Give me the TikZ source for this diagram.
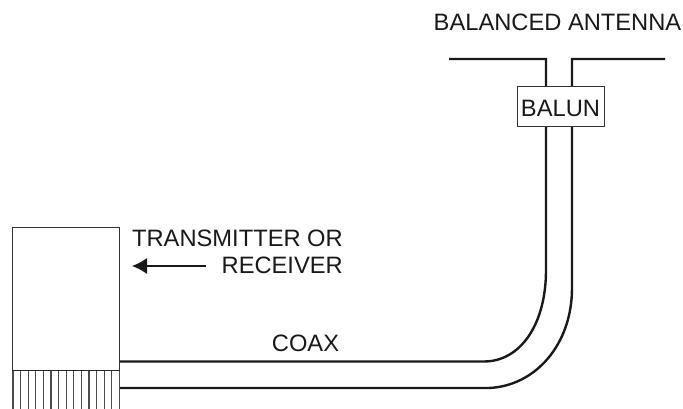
\documentclass[tikz,border=0pt]{standalone}
\usepackage{fontspec}
\setmainfont{Liberation Sans}
\usetikzlibrary{arrows.meta}
\tikzset{
  lbl/.style={inner sep=0pt,font=\fontsize{23.7}{28}\selectfont,text=black!90},
  coaxline/.style={line width=2.4pt,black!90},
  thin box/.style={draw=black!80,line width=1pt,fill=white},
  fin/.style={draw=black!70,line width=1.1pt},
}
\begin{document}
\begin{tikzpicture}[x=1pt,y=-1pt]
\useasboundingbox (0,0) rectangle (683,409);
% coordinates
\coordinate (ALend) at (449,59);
\coordinate (ALcorner) at (546,59);
\coordinate (ARend) at (665,59);
\coordinate (ARcorner) at (572,59);
\coordinate (Istraight) at (546,270);
\coordinate (Ostraight) at (572,288);
\coordinate (Ijoin) at (484,361.5);
\coordinate (Ojoin) at (489,388);
\coordinate (Istart) at (119,361.5);
\coordinate (Ostart) at (119,388);
\coordinate (arrowtail) at (206,266);
\coordinate (arrowtip) at (132,266);
% coax and antenna
\draw[coaxline,line join=miter] (ALend) -- (ALcorner) -- (Istraight)
  .. controls (546,325) and (520,361.5) .. (Ijoin) -- (Istart);
\draw[coaxline,line join=miter] (ARend) -- (ARcorner) -- (Ostraight)
  .. controls (572,345) and (535,386) .. (Ojoin) -- (Ostart);
% balun
\node[thin box,minimum width=87pt,minimum height=40pt,inner sep=0pt] (balun) at (560.5,106.5) {};
\node[lbl,anchor=base] (baluntext) at (560.5,117) {BALUN};
% transmitter
\node[thin box,minimum width=107pt,minimum height=143pt,inner sep=0pt] (tx) at (66.3,298.5) {};
\foreach \i in {0,...,14}{
  \coordinate (fa\i) at ({13+\i*7.6},370);
  \coordinate (fb\i) at ({13+\i*7.6},409);
  \draw[fin] (fa\i) -- (fb\i);
}
\draw[draw=black!85,line width=1.3pt] (tx.south west) -- (tx.south east);
% arrow
\draw[line width=1.3pt,black!90,-{Latex[length=15pt,width=16pt]}] (arrowtail) -- (arrowtip);
% labels
\node[lbl,anchor=base east] (ant) at (681.5,30.7) {BALANCED ANTENNA};
\node[lbl,anchor=base east] (t1) at (343,246.7) {TRANSMITTER OR};
\node[lbl,anchor=base east] (t2) at (343,273.5) {RECEIVER};
\node[lbl,anchor=base] (coax) at (305.5,351.7) {COAX};
\end{tikzpicture}
\end{document}
